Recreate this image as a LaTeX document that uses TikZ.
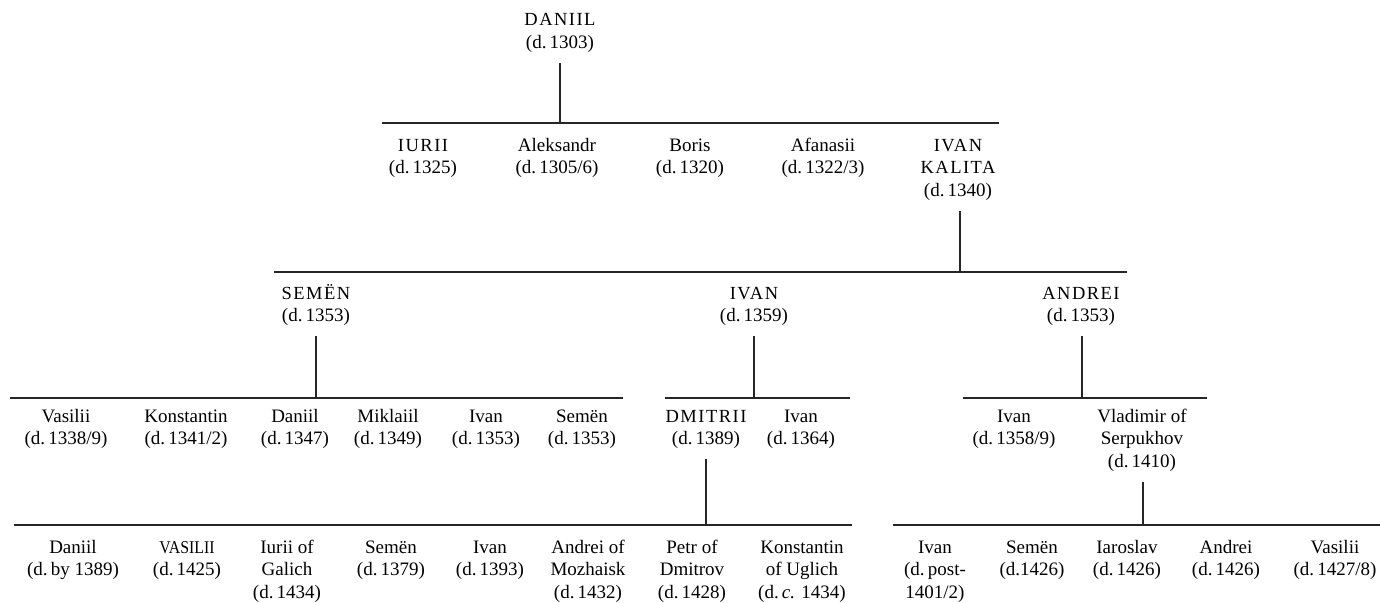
\documentclass[tikz,border=0pt]{standalone}
\usepackage{fontspec}
\usepackage{graphicx}
\setmainfont{Liberation Serif}
\newcommand\pp[1]{\begin{tabular}[t]{@{}c@{}}#1\end{tabular}}
\newcommand\nm[1]{{\fontsize{18.5}{22.5}\selectfont\addfontfeature{LetterSpace=8}#1}}
\newcommand\nmp[1]{{\fontsize{18}{22.5}\selectfont\scalebox{0.88}[1]{#1}}}
\tikzset{
  person/.style={anchor=base, inner sep=0pt, font=\fontsize{19}{22.5}\selectfont},
  line/.style={line width=1.1pt, black!85},
}
\begin{document}
\begin{tikzpicture}[x=1pt,y=-1pt]
\useasboundingbox (0,0) rectangle (1380,602);
% level 1
\node[person] (daniil) at (560,26) {\pp{\nm{DANIIL}\\(d.\,1303)}};
% level 2
\node[person] (iurii) at (423,151) {\pp{\nm{IURII}\\(d.\,1325)}};
\node[person] (aleks) at (557,151) {\pp{Aleksandr\\(d.\,1305/6)}};
\node[person] (boris) at (690,151) {\pp{Boris\\(d.\,1320)}};
\node[person] (afan) at (823,151) {\pp{Afanasii\\(d.\,1322/3)}};
\node[person] (kalita) at (958,151) {\pp{\nm{IVAN}\\\nm{KALITA}\\(d.\,1340)}};
% level 3
\node[person] (semen) at (316,299) {\pp{\nm{SEMËN}\\(d.\,1353)}};
\node[person] (ivan) at (754,299) {\pp{\nm{IVAN}\\(d.\,1359)}};
\node[person] (andrei) at (1081,299) {\pp{\nm{ANDREI}\\(d.\,1353)}};
% level 4
\node[person] (vasilii) at (66,422) {\pp{Vasilii\\(d.\,1338/9)}};
\node[person] (konst) at (186,422) {\pp{Konstantin\\(d.\,1341/2)}};
\node[person] (daniilb) at (295,422) {\pp{Daniil\\(d.\,1347)}};
\node[person] (mikl) at (388,422) {\pp{Miklaiil\\(d.\,1349)}};
\node[person] (ivanb) at (486,422) {\pp{Ivan\\(d.\,1353)}};
\node[person] (semenb) at (582,422) {\pp{Semën\\(d.\,1353)}};
\node[person] (dmitrii) at (706,422) {\pp{\nm{DMITRII}\\(d.\,1389)}};
\node[person] (ivanc) at (801,422) {\pp{Ivan\\(d.\,1364)}};
\node[person] (ivand) at (1014,422) {\pp{Ivan\\(d.\,1358/9)}};
\node[person] (vlad) at (1142,422) {\pp{Vladimir of\\Serpukhov\\(d.\,1410)}};
% level 5
\node[person] (daniilc) at (73,553) {\pp{Daniil\\(d.\,by 1389)}};
\node[person] (vasiliib) at (187,553) {\pp{\nmp{VASILII}\\(d.\,1425)}};
\node[person] (iuriib) at (287,553) {\pp{Iurii of\\Galich\\(d.\,1434)}};
\node[person] (semenc) at (391,553) {\pp{Semën\\(d.\,1379)}};
\node[person] (ivane) at (490,553) {\pp{Ivan\\(d.\,1393)}};
\node[person] (andreib) at (588,553) {\pp{Andrei of\\Mozhaisk\\(d.\,1432)}};
\node[person] (petr) at (692,553) {\pp{Petr of\\Dmitrov\\(d.\,1428)}};
\node[person] (konstb) at (802,553) {\pp{Konstantin\\of Uglich\\(d.\,\textit{c.} 1434)}};
\node[person] (ivanf) at (935,553) {\pp{Ivan\\(d.\,post-\\1401/2)}};
\node[person] (semend) at (1032,553) {\pp{Semën\\(d.1426)}};
\node[person] (iaro) at (1127,553) {\pp{Iaroslav\\(d.\,1426)}};
\node[person] (andreic) at (1226,553) {\pp{Andrei\\(d.\,1426)}};
\node[person] (vasiliic) at (1335,553) {\pp{Vasilii\\(d.\,1427/8)}};
% bus coordinates
\coordinate (b1l) at (382,123); \coordinate (b1r) at (999,123);
\coordinate (b2l) at (274,272); \coordinate (b2r) at (1127,272);
\coordinate (b3l) at (10,398);  \coordinate (b3r) at (623,398);
\coordinate (b4l) at (665,398); \coordinate (b4r) at (850,398);
\coordinate (b5l) at (963,398); \coordinate (b5r) at (1207,398);
\coordinate (b6l) at (14,525);  \coordinate (b6r) at (852,525);
\coordinate (b7l) at (893,525); \coordinate (b7r) at (1380,525);
\foreach \l/\r in {b1l/b1r,b2l/b2r,b3l/b3r,b4l/b4r,b5l/b5r,b6l/b6r,b7l/b7r}
  \draw[line] (\l) -- (\r);
% descents
\draw[line] ([yshift=-8pt]daniil.south) -- (daniil.south |- b1l);
\draw[line] ([xshift=2pt,yshift=-8pt]kalita.south) -- ([xshift=2pt]kalita.south |- b2l);
\draw[line] ([yshift=-8pt]semen.south) -- (semen.south |- b3l);
\draw[line] ([yshift=-8pt]ivan.south) -- (ivan.south |- b4l);
\draw[line] ([xshift=1pt,yshift=-8pt]andrei.south) -- ([xshift=1pt]andrei.south |- b5l);
\draw[line] ([yshift=-8pt]dmitrii.south) -- (dmitrii.south |- b6l);
\draw[line] ([xshift=1pt,yshift=-8pt]vlad.south) -- ([xshift=1pt]vlad.south |- b7l);
\end{tikzpicture}
\end{document}
